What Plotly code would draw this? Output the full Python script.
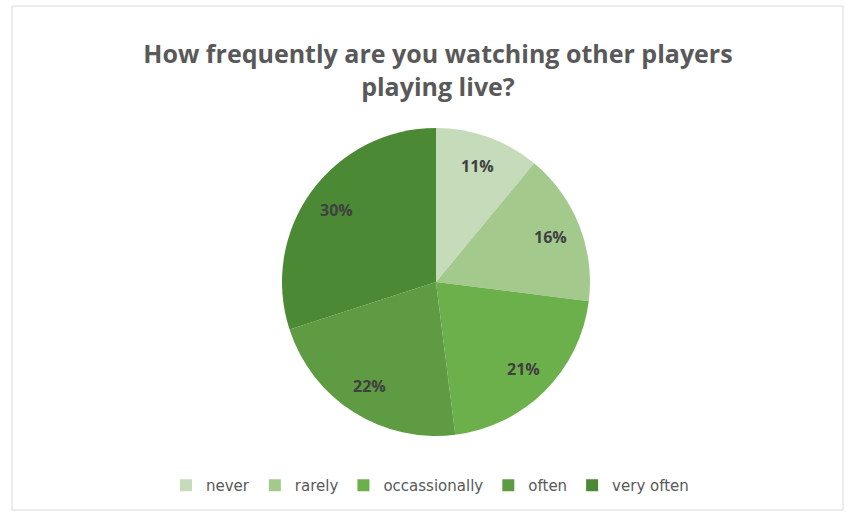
import math
import plotly.graph_objects as go

categories = ["never", "rarely", "occassionally", "often", "very often"]
shares = [11, 16, 21, 22, 30]
colors = ["#c5dbba", "#a4c98d", "#6cb04b", "#5f9b43", "#4b8934"]

W, H = 847, 514
cx, cy, r = 436, 282, 154
label_radius = 0.80  # fraction of the pie radius where value labels sit

fig = go.Figure(
    go.Pie(
        labels=categories,
        values=shares,
        sort=False,
        direction="clockwise",
        rotation=0,
        marker=dict(colors=colors, line=dict(width=0)),
        textinfo="none",
        domain=dict(x=[(cx - r) / W, (cx + r) / W], y=[1 - (cy + r) / H, 1 - (cy - r) / H]),
        hoverinfo="label+percent",
    )
)

# value labels placed at the middle angle of each slice
total = sum(shares)
annotations = []
cum = 0
for v in shares:
    mid = (cum + v / 2) / total * 2 * math.pi  # clockwise from 12 o'clock
    cum += v
    px = cx + label_radius * r * math.sin(mid)
    py = cy - label_radius * r * math.cos(mid)
    annotations.append(dict(
        x=px / W, y=1 - py / H, xref="paper", yref="paper",
        xanchor="center", yanchor="middle",
        text=f"<b>{v}%</b>", showarrow=False,
        font=dict(family="Open Sans", size=16, color="#404040"),
    ))

fig.update_layout(
    width=W,
    height=H,
    margin=dict(l=0, r=0, t=0, b=0),
    paper_bgcolor="white",
    plot_bgcolor="white",
    title=dict(
        text="<b>How frequently are you watching other players<br>playing live?</b>",
        x=438 / W,
        xanchor="center",
        y=1 - 63 / H,
        yanchor="top",
        font=dict(family="Open Sans", size=25, color="#595959"),
    ),
    legend=dict(
        orientation="h",
        x=430 / W,
        xanchor="center",
        y=1 - 469 / H,
        yanchor="top",
        font=dict(family="DejaVu Sans", size=15, color="#595959"),
        itemwidth=30,
        traceorder="normal",
    ),
    annotations=annotations,
    shapes=[
        dict(type="rect", xref="paper", yref="paper",
             x0=12 / W, x1=843 / W, y0=1 - 510 / H, y1=1 - 6 / H,
             line=dict(color="#d9d9d9", width=1), fillcolor="rgba(0,0,0,0)")
    ],
)

fig.write_html("out.html")
